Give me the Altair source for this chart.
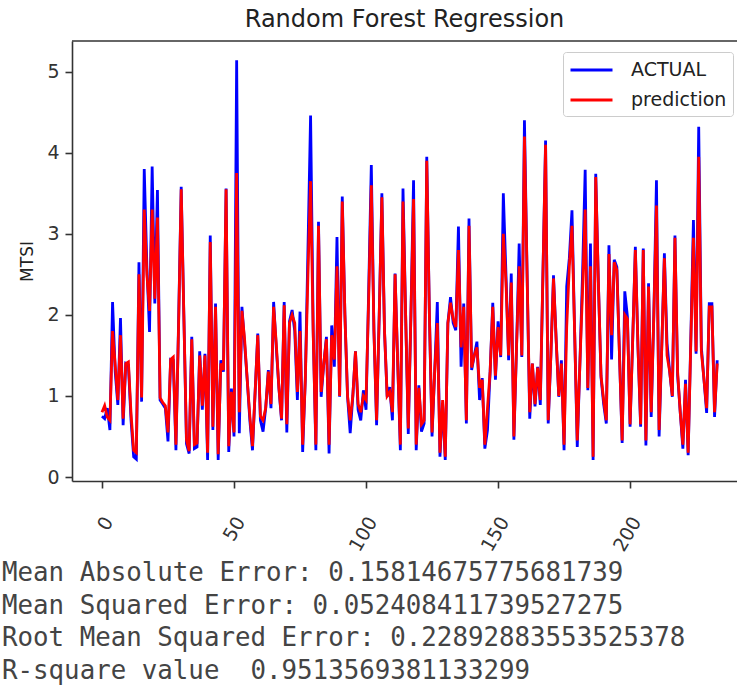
import altair as alt
import pandas as pd

# Observed MTSI values for each test sample
actual = [
    0.75, 0.72, 0.85, 0.58, 2.16, 1.30, 0.89, 1.96, 0.64, 1.40,
    1.38, 0.70, 0.25, 0.22, 2.65, 0.93, 3.80, 2.60, 1.79, 3.83,
    2.14, 3.54, 0.95, 0.90, 0.85, 0.44, 1.45, 1.44, 0.33, 1.90,
    3.58, 2.00, 0.41, 0.29, 1.73, 0.35, 0.37, 1.55, 0.83, 1.52,
    0.21, 2.98, 0.58, 2.14, 0.21, 1.44, 1.30, 3.56, 0.31, 1.09,
    0.50, 5.14, 0.54, 2.10, 1.65, 1.20, 0.70, 0.33, 1.05, 1.77,
    0.70, 0.56, 0.85, 1.32, 0.85, 2.16, 1.60, 1.10, 0.70, 2.16,
    0.55, 1.92, 2.06, 1.80, 0.95, 2.04, 0.31, 1.20, 2.80, 4.46,
    1.80, 0.33, 3.15, 0.99, 1.40, 1.73, 0.29, 1.87, 1.36, 2.96,
    0.99, 3.46, 2.00, 0.99, 0.54, 1.00, 1.55, 0.83, 0.70, 1.07,
    0.83, 2.30, 3.85, 1.80, 0.64, 2.00, 3.50, 1.80, 0.99, 1.11,
    0.70, 2.51, 1.40, 0.33, 3.56, 2.00, 0.53, 2.00, 3.66, 0.33,
    1.13, 0.56, 0.66, 3.95, 2.00, 0.50, 1.30, 2.16, 0.25, 0.91,
    0.21, 1.90, 2.22, 1.90, 1.81, 3.09, 1.36, 2.14, 0.66, 3.19,
    1.32, 1.50, 1.67, 0.95, 1.22, 0.35, 0.58, 1.30, 2.15, 1.20,
    1.92, 1.48, 3.50, 2.50, 1.44, 2.51, 0.46, 1.60, 2.88, 1.48,
    4.40, 2.50, 0.72, 1.40, 0.87, 1.36, 0.89, 2.50, 4.15, 0.66,
    1.50, 2.49, 1.70, 0.99, 1.44, 0.33, 2.35, 2.70, 3.29, 1.80,
    0.37, 1.40, 2.50, 3.79, 1.07, 2.88, 0.21, 3.74, 2.40, 1.23,
    0.90, 0.66, 2.86, 1.45, 2.68, 2.59, 1.50, 0.42, 2.29, 1.98,
    0.62, 1.70, 2.84, 1.60, 0.62, 2.82, 0.39, 2.39, 0.74, 2.00,
    3.66, 0.50, 1.60, 2.76, 1.65, 1.30, 0.99, 2.98, 1.26, 0.80,
    0.35, 1.20, 0.27, 1.70, 3.17, 1.52, 4.32, 1.60, 1.20, 0.79,
    2.14, 2.14, 0.74, 1.44,
]

# Random forest predictions for the same samples
prediction = [
    0.80, 0.88, 0.74, 0.70, 1.80, 1.38, 0.95, 1.75, 0.72, 1.40,
    1.42, 0.78, 0.33, 0.30, 2.50, 0.98, 3.30, 2.50, 2.05, 3.30,
    2.20, 3.20, 0.98, 0.92, 0.88, 0.55, 1.45, 1.48, 0.40, 1.85,
    3.55, 2.00, 0.46, 0.32, 1.70, 0.40, 0.42, 1.50, 0.88, 1.50,
    0.30, 2.90, 0.62, 2.10, 0.28, 1.40, 1.32, 3.55, 0.38, 1.05,
    0.55, 3.75, 0.80, 2.05, 1.70, 1.20, 0.75, 0.38, 1.05, 1.75,
    0.75, 0.70, 0.85, 1.30, 0.90, 2.10, 1.65, 1.10, 0.72, 2.12,
    0.65, 1.90, 2.00, 1.90, 1.05, 1.80, 0.40, 1.20, 2.50, 3.65,
    1.75, 0.40, 3.10, 1.05, 1.40, 1.70, 0.40, 1.75, 1.45, 2.60,
    1.00, 3.40, 2.00, 1.00, 0.70, 1.00, 1.55, 0.90, 0.80, 1.00,
    0.95, 2.20, 3.60, 1.80, 0.70, 2.00, 3.45, 1.80, 1.00, 1.05,
    0.80, 2.50, 1.40, 0.40, 3.40, 2.00, 0.60, 2.00, 3.43, 0.40,
    1.10, 0.65, 0.70, 3.90, 2.00, 0.55, 1.30, 1.90, 0.30, 0.95,
    0.25, 1.90, 2.15, 1.95, 1.85, 2.80, 1.60, 2.10, 0.70, 3.10,
    1.35, 1.50, 1.60, 1.10, 1.20, 0.40, 0.85, 1.30, 2.10, 1.25,
    1.85, 1.50, 3.00, 2.40, 1.50, 2.40, 0.50, 1.60, 2.60, 1.50,
    4.20, 2.50, 0.80, 1.40, 0.90, 1.35, 0.95, 2.50, 4.10, 0.70,
    1.50, 2.45, 1.70, 1.00, 1.40, 0.40, 1.85, 2.60, 3.10, 1.80,
    0.45, 1.40, 2.30, 3.30, 1.10, 2.60, 0.25, 3.70, 2.40, 1.25,
    0.95, 0.70, 2.75, 1.75, 2.65, 2.55, 1.50, 0.45, 2.00, 1.95,
    0.65, 1.70, 2.80, 1.60, 0.65, 2.80, 0.45, 2.35, 0.80, 2.00,
    3.35, 0.58, 1.60, 2.70, 1.50, 1.30, 1.00, 2.95, 1.30, 0.80,
    0.40, 1.15, 0.30, 1.65, 2.95, 1.55, 3.95, 1.55, 1.20, 0.85,
    2.10, 2.10, 0.80, 1.40,
]

series_names = ["ACTUAL", "prediction"]
series_colors = ["#0000ff", "#ff0000"]
x_ticks = [0, 50, 100, 150, 200]
y_ticks = [0, 1, 2, 3, 4, 5]

metric_lines = [
    "Mean Absolute Error: 0.15814675775681739",
    "Mean Squared Error: 0.052408411739527275",
    "Root Mean Squared Error: 0.22892883553525378",
    "R-square value \u00a00.9513569381133299",
]

n = len(actual)
df = pd.DataFrame({
    "index": list(range(n)) * 2,
    "MTSI": actual + prediction,
    "series": [series_names[0]] * n + [series_names[1]] * n,
})

W, H = 665, 440
AXIS_COLOR = "#333333"

lines = alt.Chart(df).mark_line(strokeWidth=2.8).encode(
    x=alt.X(
        "index:Q",
        scale=alt.Scale(domain=[-11.36, 240.5], nice=False, zero=False),
        axis=alt.Axis(
            values=x_ticks, title=None, labelAngle=-60, labelAlign="right",
            labelBaseline="middle", labelPadding=30, labelOffset=6,
        ),
    ),
    y=alt.Y(
        "MTSI:Q",
        scale=alt.Scale(domain=[-0.049, 5.379], nice=False, zero=False),
        axis=alt.Axis(values=y_ticks, title="MTSI", titlePadding=10,
                      labelPadding=6),
    ),
    color=alt.Color(
        "series:N",
        scale=alt.Scale(domain=series_names, range=series_colors),
        legend=alt.Legend(
            title=None, orient="none", legendX=491, legendY=11,
            symbolType="M-1,0H3", symbolSize=441, symbolStrokeWidth=3,
            labelFontSize=19, labelOffset=38, labelColor="#222222",
            strokeColor="#cccccc", fillColor="white", padding=6,
            cornerRadius=3, rowPadding=8,
        ),
    ),
)

# top frame line of the axes box
frame_top = alt.Chart(df.head(1)).mark_rule(color=AXIS_COLOR, strokeWidth=1.6).encode(
    x=alt.value(0), x2=alt.value(W), y=alt.value(0)
)

# printed regression metrics beneath the plot
text_layers = [
    alt.Chart(pd.DataFrame({"line": [t]})).mark_text(
        align="left", baseline="alphabetic", font="DejaVu Sans Mono",
        fontSize=25.8, color="#444444",
    ).encode(x=alt.value(-70), y=alt.value(540 + 32.5 * k), text="line:N")
    for k, t in enumerate(metric_lines)
]

chart = alt.layer(lines, frame_top, *text_layers).properties(
    width=W,
    height=H,
    title=alt.TitleParams(
        "Random Forest Regression", fontSize=24, fontWeight="normal",
        font="DejaVu Sans", color="#222222", offset=8, anchor="middle",
    ),
    padding={"left": 72, "top": 41, "right": 0, "bottom": 210},
    autosize=alt.AutoSizeParams(type="none"),
).configure_view(stroke=None).configure_axis(
    grid=False, domainColor=AXIS_COLOR, domainWidth=1.6, tickColor=AXIS_COLOR,
    tickWidth=1.6, tickSize=7, labelFont="DejaVu Sans", labelFontSize=19,
    labelColor="#333333", titleFont="DejaVu Sans", titleFontSize=17,
    titleFontWeight="normal", titleColor="#222222",
).configure_legend(labelFont="DejaVu Sans")

chart.save("out.html", embed_options={"renderer": "svg", "actions": False})
